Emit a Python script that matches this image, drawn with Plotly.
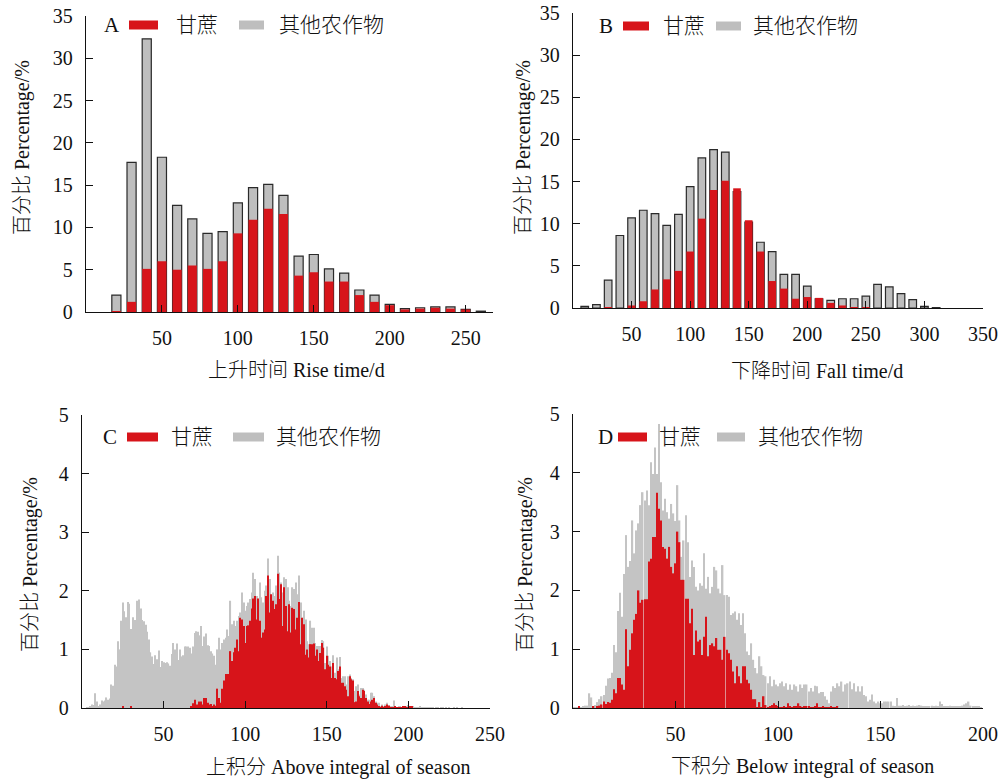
import plotly.graph_objects as go

# ---------------- data ----------------
# A: rise time (d), percentage of pixels per 10-day bin
RISE_BINS = list(range(20, 270, 10))
RISE_OTHER = [2.0, 17.7, 32.3, 18.3, 12.6, 11.0, 9.3, 9.5, 12.9, 14.7, 15.1, 13.8, 6.6,
              6.8, 5.1, 4.6, 2.6, 2.0, 0.9, 0.4, 0.5, 0.6, 0.6, 0.3, 0.1]
RISE_SUGAR = [0.1, 1.2, 5.1, 6.0, 5.0, 5.5, 5.1, 6.0, 9.3, 10.9, 12.2, 11.6, 4.3,
              4.7, 3.6, 3.6, 2.0, 1.2, 0.8, 0.3, 0.4, 0.5, 0.4, 0.3, 0.0]

# B: fall time (d)
FALL_BINS = list(range(10, 320, 10))
FALL_OTHER = [0.2, 0.4, 3.3, 8.6, 10.7, 11.6, 11.2, 9.8, 11.1, 14.4, 17.8, 18.8, 18.5,
              13.8, 10.2, 7.8, 6.7, 4.0, 4.0, 2.6, 1.1, 0.9, 1.1, 1.1, 1.4, 2.8, 2.5,
              1.7, 1.0, 0.2, 0.05]
FALL_SUGAR = [0, 0, 0.1, 0, 0.3, 0.8, 2.2, 3.4, 4.4, 6.7, 10.6, 14.0, 15.1, 14.2, 10.4,
              6.7, 3.2, 2.3, 1.1, 1.3, 1.2, 0.6, 0.3, 0.05, 0.1, 0, 0, 0, 0, 0, 0]

# C: above integral of season, unit bins starting at 0
ABOVE_OTHER = [
    0, 0, 0, 0.01, 0.01, 0.02, 0.06, 0.05, 0.25, 0.11,
    0.03, 0.06, 0.13, 0.11, 0.13, 0.18, 0.14, 0.16, 0.40, 0.38,
    0.74, 0.71, 1.14, 1.00, 1.49, 1.80, 1.65, 1.55, 1.81, 1.78,
    1.35, 1.55, 1.50, 1.50, 1.83, 1.85, 1.70, 1.50, 1.48, 1.42,
    1.30, 1.17, 0.95, 0.88, 0.75, 0.90, 0.83, 0.98, 0.70, 0.80,
    0.78, 0.77, 0.78, 0.76, 0.72, 0.92, 1.11, 1.00, 1.10, 0.82,
    1.00, 0.88, 0.90, 1.05, 1.05, 1.05, 1.03, 0.93, 1.05, 1.28,
    1.31, 1.30, 1.24, 1.40, 1.06, 1.22, 1.27, 1.07, 1.06, 0.97,
    0.93, 0.89, 0.74, 1.00, 1.20, 1.00, 1.11, 1.17, 1.20, 1.34,
    1.23, 1.83, 1.43, 1.49, 1.40, 1.49, 1.57, 1.63, 1.97, 1.80,
    1.66, 1.74, 1.80, 1.86, 1.97, 2.31, 2.20, 1.91, 1.74, 2.14,
    1.89, 1.80, 2.00, 2.09, 2.55, 2.20, 1.91, 1.97, 1.91, 2.09,
    2.60, 2.31, 2.14, 1.97, 2.23, 2.20, 2.06, 1.83, 1.74, 2.06,
    2.03, 2.14, 1.94, 2.26, 1.80, 1.54, 1.66, 1.51, 1.14, 1.09,
    1.49, 1.37, 1.37, 1.11, 1.06, 1.06, 1.06, 1.16, 1.14, 0.77,
    1.05, 0.89, 0.80, 0.71, 0.90, 0.60, 0.86, 0.66, 0.87, 0.51,
    0.54, 0.54, 0.40, 0.54, 0.57, 0.51, 0.49, 0.29, 0.37, 0.40,
    0.23, 0.34, 0.34, 0.31, 0.23, 0.14, 0.14, 0.26, 0.26, 0.20,
    0.11, 0.09, 0.09, 0.03, 0.06, 0.03, 0.06, 0.09, 0.05, 0.02,
    0.03, 0.13, 0.02, 0.01, 0.03, 0.02, 0.01, 0.02, 0.01, 0.02,
    0.05, 0.02, 0.01, 0.02, 0.01, 0.01, 0.01, 0.02, 0.01, 0.01,
    0.01, 0.01, 0.005, 0.005, 0.01, 0.005, 0, 0.005, 0.005, 0,
    0.005, 0.005, 0, 0.005, 0, 0.005, 0, 0, 0.005, 0,
    0.005, 0, 0, 0.005, 0, 0, 0, 0, 0, 0,
]
ABOVE_SUGAR = [
    0, 0, 0, 0, 0, 0, 0, 0, 0, 0,
    0, 0, 0, 0, 0, 0, 0, 0, 0, 0,
    0, 0, 0, 0, 0, 0.02, 0, 0, 0, 0,
    0.02, 0, 0, 0, 0, 0, 0, 0, 0, 0,
    0, 0, 0, 0, 0, 0, 0, 0, 0, 0,
    0, 0, 0, 0, 0, 0, 0, 0, 0, 0,
    0, 0, 0, 0, 0, 0, 0, 0.03, 0.08, 0.14,
    0.06, 0.06, 0.11, 0.11, 0.06, 0.17, 0.17, 0.09, 0.06, 0.07,
    0.03, 0.06, 0.04, 0.33, 0.17, 0.09, 0.33, 0.47, 0.58, 0.58,
    0.58, 0.97, 0.80, 0.95, 1.03, 1.17, 0.97, 1.54, 1.51, 1.40,
    1.11, 1.40, 1.41, 1.49, 1.70, 1.87, 1.91, 1.51, 1.87, 1.49,
    1.20, 1.29, 1.34, 1.91, 2.26, 1.63, 1.94, 1.83, 1.69, 1.77,
    2.29, 1.86, 2.11, 1.40, 2.06, 1.74, 1.31, 1.77, 1.29, 1.71,
    1.69, 1.34, 1.54, 1.81, 1.09, 1.54, 1.43, 0.91, 1.00, 0.86,
    1.09, 1.09, 1.10, 0.89, 1.00, 0.80, 0.94, 1.11, 1.03, 0.66,
    0.89, 0.74, 0.71, 0.51, 0.77, 0.51, 0.49, 0.63, 0.71, 0.43,
    0.43, 0.37, 0.31, 0.20, 0.54, 0.49, 0.47, 0.10, 0.11, 0.29,
    0.20, 0.17, 0.31, 0.29, 0.17, 0.11, 0.07, 0.11, 0.14, 0.17,
    0.09, 0.06, 0.03, 0.01, 0.04, 0.01, 0.03, 0.06, 0.04, 0.01,
    0.01, 0.01, 0.03, 0.01, 0.01, 0.01, 0.01, 0.03, 0.03, 0.01,
    0, 0.03, 0.03,
]

# D: below integral of season, unit bins starting at 0
BELOW_OTHER = [
    0.01, 0.01, 0.01, 0.02, 0.01, 0.03, 0.04, 0.04, 0.25, 0.18,
    0.03, 0.05, 0.10, 0.15, 0.20, 0.22, 0.38, 0.50, 0.51, 0.60,
    1.07, 0.95, 1.65, 1.96, 1.55, 2.28, 2.94, 2.40, 2.50, 3.19,
    2.63, 3.02, 3.14, 3.45, 3.67, 3.53, 3.70, 3.45, 4.18, 3.98,
    4.43, 3.98, 4.83, 3.84, 3.36, 3.56, 3.33, 3.22, 3.47, 3.31,
    3.18, 3.79, 3.19, 2.57, 2.85, 3.28, 2.82, 2.23, 2.51, 2.40,
    2.06, 2.00, 2.12, 2.08, 2.63, 2.03, 2.23, 1.95, 2.06, 2.40,
    2.34, 2.03, 1.95, 2.43, 1.92, 1.92, 1.89, 1.58, 1.61, 1.64,
    1.50, 1.61, 1.41, 1.61, 1.27, 0.96, 0.90, 1.10, 0.82, 0.68,
    0.59, 0.88, 0.71, 0.56, 0.54, 0.42, 0.54, 0.37, 0.48, 0.40,
    0.37, 0.42, 0.45, 0.37, 0.42, 0.31, 0.40, 0.31, 0.40, 0.37,
    0.28, 0.40, 0.34, 0.40, 0.40, 0.28, 0.34, 0.28, 0.38, 0.37,
    0.25, 0.27, 0.27, 0.20, 0.14, 0.08, 0.28, 0.37, 0.34, 0.42,
    0.37, 0.45, 0.28, 0.40, 0.42, 0.45, 0.32, 0.42, 0.28, 0.37,
    0.28, 0.37, 0.22, 0.20, 0.11, 0.14, 0.23, 0.11, 0.08, 0.11,
    0.08, 0.08, 0.11, 0.11, 0.11, 0.11, 0.04, 0.03, 0.17, 0.04,
    0.04, 0.05, 0.03, 0.04, 0.05, 0.03, 0.04, 0.03, 0.04, 0.05,
    0.04, 0.03, 0.02, 0.03, 0.03, 0.04, 0.03, 0.04, 0.03, 0.11,
    0.07, 0.03, 0.03, 0.02, 0.04, 0.03, 0.03, 0.02, 0.03, 0.02,
    0.04, 0.06, 0.08, 0.11, 0.04, 0.03, 0.02, 0.03, 0.02, 0.01,
]
BELOW_SUGAR = [
    0, 0, 0, 0.03, 0, 0, 0, 0, 0, 0,
    0.02, 0, 0.03, 0.04, 0.06, 0.11, 0.07, 0.10, 0.09, 0.14,
    0.32, 0.25, 0.51, 0.51, 0.40, 0.31, 1.34, 0.71, 0.99, 1.27,
    1.50, 1.60, 2.00, 1.79, 1.84, 1.85, 1.85, 2.49, 2.54, 2.91,
    2.91, 3.66, 3.39, 3.19, 2.74, 2.71, 2.54, 2.74, 2.40, 2.29,
    2.46, 3.00, 2.82, 2.18, 2.18, 1.86, 1.86, 1.44, 1.69, 0.90,
    1.32, 1.13, 1.16, 0.90, 1.21, 1.55, 0.88, 1.07, 1.10, 1.05,
    1.19, 0.99, 0.99, 0.82, 1.21, 0.99, 0.93, 0.82, 0.62, 0.42,
    0.71, 0.54, 0.42, 0.71, 0.71, 0.48, 0.42, 0.31, 0.15, 0.15,
    0.01, 0.10, 0.01, 0.20, 0.05, 0.01, 0.03, 0.05, 0.08, 0.05,
    0.02, 0.01, 0.01, 0.02, 0.01, 0.08, 0.03, 0.01, 0.02, 0.02,
    0.08, 0.02, 0.01, 0.02, 0.02, 0.02, 0.01, 0.01, 0.02, 0.08,
    0.01, 0.01, 0.02, 0.01, 0.01, 0.01, 0.02, 0.01, 0.01, 0.03,
]

SUGAR_NAME = "甘蔗"
OTHER_NAME = "其他农作物"
Y_TITLE = "百分比 Percentage/%"

# ---------------- style ----------------
W, H = 1003, 782
RED = "#D7141A"
GRAY = "#BEBEBE"
GRAY_LIGHT = "#C4C4C4"
INK = "#111111"
SERIF = "Times New Roman, Liberation Serif, Noto Sans CJK SC, serif"


def fx(px):
    return px / W


def fy(py):
    return 1 - py / H


def text_font(size):
    return dict(family=SERIF, size=size, color=INK, weight=300)


# each panel: plot box in pixels (left, right, bottom, top), ranges, ticks
panels = [
    dict(letter="A", bins=RISE_BINS, other=RISE_OTHER, sugar=RISE_SUGAR, width=6,
         box=(86, 493, 312, 16), xr=[0, 268], yr=[0, 35],
         xt=[50, 100, 150, 200, 250], yt=list(range(0, 40, 5)), outline=True,
         xtitle="上升时间 Rise time/d", xt_pos=(296, 370), yt_pos=(22, 148),
         leg=dict(letter=102, y=25, red=(129, 158), t1=174, gray=(239, 264), t2=277)),
    dict(letter="B", bins=FALL_BINS, other=FALL_OTHER, sugar=FALL_SUGAR, width=6.5,
         box=(573, 983, 308, 13), xr=[0, 350], yr=[0, 35],
         xt=[50, 100, 150, 200, 250, 300, 350], yt=list(range(0, 40, 5)), outline=True,
         xtitle="下降时间 Fall time/d", xt_pos=(817, 371), yt_pos=(523, 148),
         leg=dict(letter=597, y=26, red=(623, 649), t1=661, gray=(716, 741), t2=751)),
    dict(letter="C", bins=list(range(len(ABOVE_OTHER))), other=ABOVE_OTHER,
         sugar=ABOVE_SUGAR, width=0.7,
         box=(82, 490, 708, 415), xr=[0, 250], yr=[0, 5],
         xt=[50, 100, 150, 200, 250], yt=list(range(0, 6)), outline=False,
         xtitle="上积分 Above integral of season", xt_pos=(338, 767), yt_pos=(30, 565),
         leg=dict(letter=101, y=437, red=(127, 158), t1=169, gray=(233, 264), t2=274)),
    dict(letter="D", bins=list(range(len(BELOW_OTHER))), other=BELOW_OTHER,
         sugar=BELOW_SUGAR, width=0.7,
         box=(573, 983, 708, 414), xr=[0, 200], yr=[0, 5],
         xt=[50, 100, 150, 200], yt=list(range(0, 6)), outline=False,
         xtitle="下积分 Below integral of season", xt_pos=(802, 766), yt_pos=(525, 565),
         leg=dict(letter=596, y=437, red=(618, 647), t1=657, gray=(717, 745), t2=756)),
]

fig = go.Figure()
shapes = []
annotations = []
layout_axes = {}

for i, p in enumerate(panels, start=1):
    xa = "x" if i == 1 else f"x{i}"
    ya = "y" if i == 1 else f"y{i}"
    n_sugar = len(p["sugar"])

    fig.add_trace(go.Bar(
        x=p["bins"], y=p["other"], width=p["width"], name=OTHER_NAME,
        marker=dict(color=GRAY if p["outline"] else GRAY_LIGHT,
                    line=dict(color="#2a2a2a", width=1.2 if p["outline"] else 0)),
        xaxis=xa, yaxis=ya, showlegend=False))
    fig.add_trace(go.Bar(
        x=p["bins"][:n_sugar], y=p["sugar"], width=p["width"], name=SUGAR_NAME,
        marker=dict(color=RED, line=dict(width=0)),
        xaxis=xa, yaxis=ya, showlegend=False))

    left, right, bottom, top = p["box"]
    axis_common = dict(showline=True, linecolor=INK, linewidth=1.4, ticks="inside",
                       ticklen=7, tickwidth=1.3, tickcolor=INK, showgrid=False,
                       zeroline=False, automargin=False, tickfont=text_font(20))
    xkey = "xaxis" if i == 1 else f"xaxis{i}"
    ykey = "yaxis" if i == 1 else f"yaxis{i}"
    layout_axes[xkey] = dict(axis_common, domain=[fx(left), fx(right)], range=p["xr"],
                             tickvals=p["xt"], anchor=ya, ticklabelstandoff=8)
    layout_axes[ykey] = dict(axis_common, domain=[fy(bottom), fy(top)], range=p["yr"],
                             tickvals=p["yt"], anchor=xa, ticklabelstandoff=8)

    # axis titles
    annotations.append(dict(text=p["xtitle"], x=fx(p["xt_pos"][0]), y=fy(p["xt_pos"][1]),
                            xref="paper", yref="paper", showarrow=False,
                            xanchor="center", yanchor="middle", font=text_font(20)))
    annotations.append(dict(text=Y_TITLE, x=fx(p["yt_pos"][0]), y=fy(p["yt_pos"][1]),
                            xref="paper", yref="paper", showarrow=False, textangle=-90,
                            xanchor="center", yanchor="middle", font=text_font(20)))

    # panel letter and legend
    lg = p["leg"]
    annotations.append(dict(text=p["letter"], x=fx(lg["letter"]), y=fy(lg["y"]),
                            xref="paper", yref="paper", showarrow=False,
                            xanchor="left", yanchor="middle", font=text_font(21)))
    for (x0, x1), color in ((lg["red"], RED), (lg["gray"], GRAY)):
        shapes.append(dict(type="rect", xref="paper", yref="paper",
                           x0=fx(x0), x1=fx(x1), y0=fy(lg["y"] + 4.5), y1=fy(lg["y"] - 4.5),
                           fillcolor=color, line=dict(width=0)))
    for tx, label in ((lg["t1"], SUGAR_NAME), (lg["t2"], OTHER_NAME)):
        annotations.append(dict(text=label, x=fx(tx), y=fy(lg["y"]),
                                xref="paper", yref="paper", showarrow=False,
                                xanchor="left", yanchor="middle", font=text_font(21)))

fig.update_layout(
    width=W, height=H, margin=dict(l=0, r=0, t=0, b=0, autoexpand=False),
    paper_bgcolor="white", plot_bgcolor="white",
    barmode="overlay", showlegend=False,
    shapes=shapes, annotations=annotations,
    **layout_axes,
)

fig.write_html("out.html")
